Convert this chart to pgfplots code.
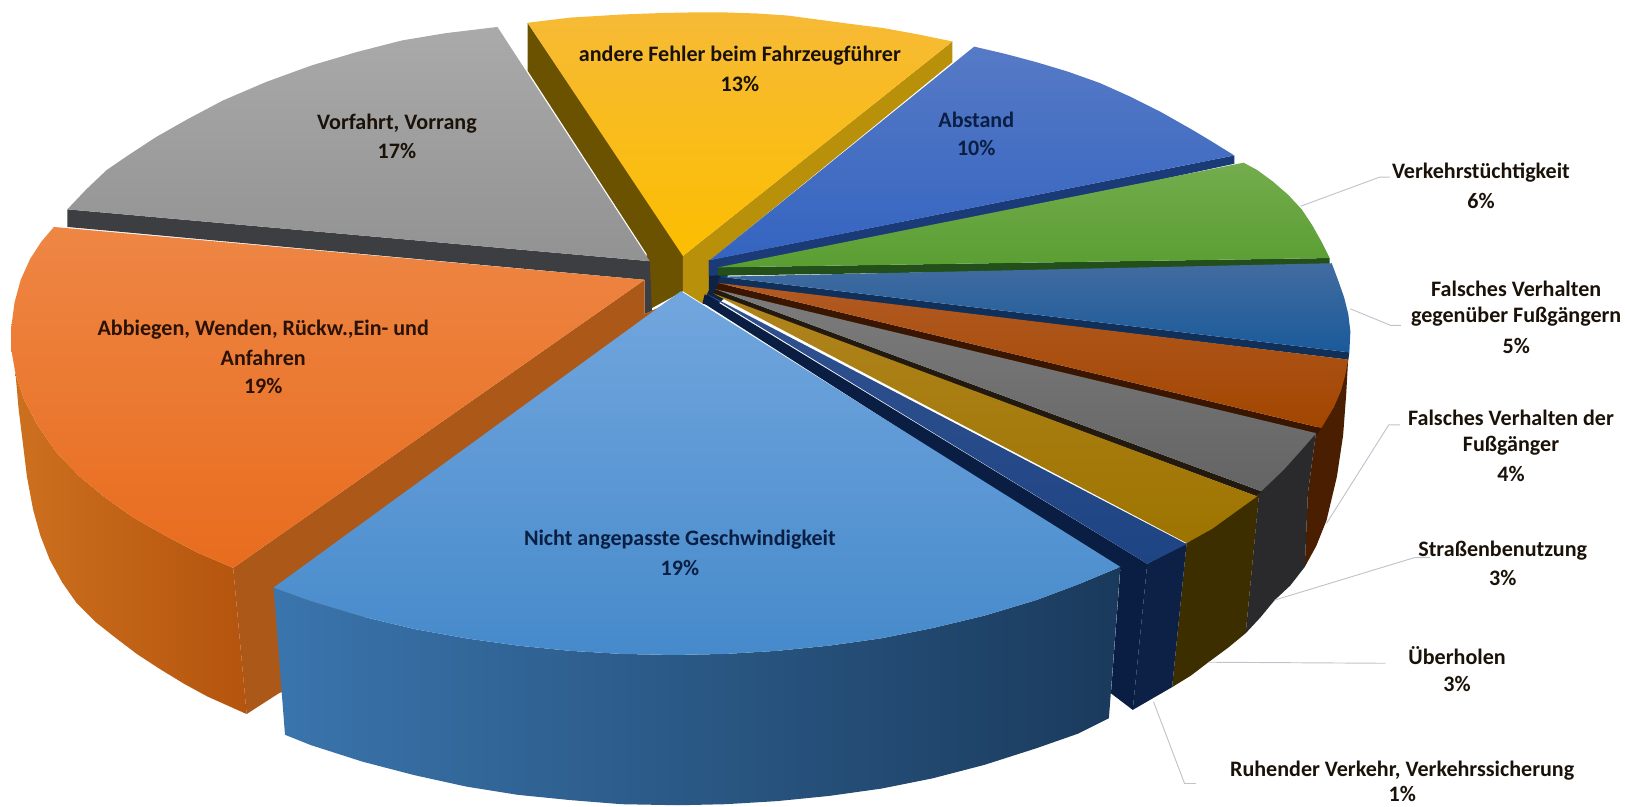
\documentclass[border=0pt]{standalone}
\usepackage{fontspec}
\setmainfont{Carlito}
\usepackage{pgfplots}
\pgfplotsset{compat=1.18}
\definecolor{txt}{HTML}{1A1208}
\definecolor{txb}{HTML}{0B1F44}
\definecolor{txr}{HTML}{2A1206}
\definecolor{lead}{HTML}{BFC4CC}
\newcommand{\lab}[4][txt]{\node[inner sep=0pt,anchor=center,text=#1,font=\fontsize{21.3}{23}\selectfont\bfseries] at (axis cs:#2,#3) {#4};}
\begin{document}
\begin{tikzpicture}
\begin{axis}[scale only axis,width=1568pt,height=778pt,xmin=0,xmax=1568,ymin=0,ymax=778,y dir=reverse,axis lines=none,clip=false]
% --- yellow walls
\addplot[draw=none,fill={rgb,255:red,107;green,82;blue,0}] coordinates {(509,22)(659,245)(659,281)(624,300)(624,245)(509,68)};
\addplot[draw=none,fill={rgb,255:red,184;green,144;blue,10}] coordinates {(659,247)(919,40)(919,60)(684,252)(684,292)(678,293)(659,281)};
\addplot[draw=none,top color={rgb,255:red,246;green,186;blue,54},middle color={rgb,255:red,255;green,192;blue,0},bottom color={rgb,255:red,252;green,190;blue,0}] coordinates {(509,22)(550,17)(600,14)(640,12.5)(667,12)(700,12)(730,13)(760,15)(790,19)(820,23)(852,27)(885,33)(919,40)(659,247)};
% --- grey
\addplot[draw=none,fill={rgb,255:red,60;green,62;blue,66}] coordinates {(65,202)(627,252)(629,300)(622,303)(622,270)(65,219)};
\addplot[draw=none,top color={rgb,255:red,170;green,170;blue,170},bottom color={rgb,255:red,146;green,146;blue,146}] coordinates {(480,26)(430,32)(388,39)(345,50)(301,63)(257,79)(215,97)(181,115)(151,132)(125,149)(103,164)(83,183)(65,202)(627,252)};
% --- orange
\addplot[draw=none,fill={rgb,255:red,172;green,88;blue,24}] coordinates {(225,548)(622,270)(622,303)(650,290)(290,660)(269,669)(238,689)};
\addplot[draw=none,left color={rgb,255:red,205;green,112;blue,30},middle color={rgb,255:red,190;green,92;blue,18},right color={rgb,255:red,180;green,84;blue,14}] coordinates {(15,361)(18,395)(22,427)(26,460)(32,492)(39,517)(48,540)(60,562)(74,582)(92,600)(111,615)(132,631)(155,646)(178,660)(200,672)(238,689)(225,548)(190,533)(158,516)(128,499)(100,479)(76,459)(54,436)(36,410)(23,385)};
\addplot[draw=none,top color={rgb,255:red,238;green,134;blue,68},bottom color={rgb,255:red,232;green,108;blue,30}] coordinates {(622,270)(52,219)(40,233)(29,250)(20,270)(14,292)(11,315)(11,338)(15,361)(23,385)(36,410)(54,436)(76,459)(100,479)(128,499)(158,516)(190,533)(225,548)};
% --- dark backing behind the fan of thin slices
\addplot[draw=none,fill={rgb,255:red,14;green,34;blue,70}] coordinates {(684,251)(702,258)(702,285)(690,296)(678,293)(684,280)};
% --- Abstand
\addplot[draw=none,fill={rgb,255:red,26;green,58;blue,120}] coordinates {(1191,150)(1191,158)(689,266)(684,266)(684,251)};
\addplot[draw=none,top color={rgb,255:red,86;green,122;blue,198},bottom color={rgb,255:red,52;green,100;blue,192}] coordinates {(685,251)(940,45)(970,52)(1000,60)(1030,69)(1061,80)(1090,93)(1120,108)(1150,125)(1170,137)(1191,150)};
% --- green
\addplot[draw=none,fill={rgb,255:red,35;green,80;blue,26}] coordinates {(1283,249)(1283,257)(693,266)(693,258)};
\addplot[draw=none,top color={rgb,255:red,116;green,172;blue,77},bottom color={rgb,255:red,90;green,158;blue,50}] coordinates {(693,258)(1200,157)(1213,164)(1228,175)(1243,188)(1256,202)(1266,217)(1275,233)(1283,249)};
% --- blue 5%
\addplot[draw=none,fill={rgb,255:red,16;green,48;blue,90}] coordinates {(1302,340)(1301,347)(692,274)(695,267)};
\addplot[draw=none,top color={rgb,255:red,66;green,108;blue,160},bottom color={rgb,255:red,26;green,90;blue,154}] coordinates {(695,267)(1285,254)(1291,270)(1297,287)(1301,303)(1303,320)(1302,340)};
% --- brown wall and top
\addplot[draw=none,fill={rgb,255:red,74;green,30;blue,0}] coordinates {(1301,344)(1299,380)(1296,420)(1290,460)(1280,502)(1270,527)(1259,547)(1262,476)(1270,416)};
\addplot[draw=none,fill={rgb,255:red,58;green,22;blue,0}] coordinates {(1275,413)(1271,419)(690,280)(693,273)};
\addplot[draw=none,top color={rgb,255:red,178;green,90;blue,35},bottom color={rgb,255:red,162;green,70;blue,0}] coordinates {(693,273)(1301,347)(1298,362)(1294,377)(1287,393)(1275,413)};
% --- grey 4%
\addplot[draw=none,fill={rgb,255:red,42;green,42;blue,44}] coordinates {(1270,416)(1262,476)(1259,547)(1245,565)(1230,579)(1216,596)(1202,611)(1215,475)};
\addplot[draw=none,fill={rgb,255:red,34;green,26;blue,14}] coordinates {(1217,474)(1213,479)(688,284)(690,279)};
\addplot[draw=none,top color={rgb,255:red,124;green,124;blue,124},bottom color={rgb,255:red,100;green,100;blue,100}] coordinates {(690,279)(1270,418)(1256,434)(1239,453)(1217,474)};
% --- gold 3%
\addplot[draw=none,fill={rgb,255:red,61;green,46;blue,0}] coordinates {(1215,476)(1202,611)(1185,625)(1166,639)(1149,652)(1131,663)(1145,524)};
\addplot[draw=none,top color={rgb,255:red,176;green,132;blue,30},bottom color={rgb,255:red,158;green,116;blue,0}] coordinates {(688,283)(1213,479)(1195,492)(1170,510)(1145,524)};
% --- navy 1%
\addplot[draw=none,fill={rgb,255:red,10;green,30;blue,68}] coordinates {(680,284)(1107,544)(1093,685)(1072,669)(1081,550)(678,292)};
\addplot[draw=none,fill={rgb,255:red,12;green,33;blue,69}] coordinates {(1145,524)(1131,663)(1093,685)(1107,544)};
\addplot[draw=none,top color={rgb,255:red,50;green,82;blue,144},bottom color={rgb,255:red,30;green,68;blue,132}] coordinates {(681,283)(1145,525)(1107,544)};
% --- leader lines
\addplot[lead,line width=0.9pt] coordinates {(1255,199)(1331,171)(1341,171)};
\addplot[lead,line width=0.9pt] coordinates {(1303,298)(1342,314)(1352,314)};
\addplot[lead,line width=0.9pt] coordinates {(1280,505)(1340,410)(1351,410)};
\addplot[lead,line width=0.9pt] coordinates {(1230,579)(1365,538)(1380,538)};
\addplot[lead,line width=0.9pt] coordinates {(1166,639)(1337,640)};
\addplot[lead,line width=0.9pt] coordinates {(1113,677)(1143,756)(1154,756)};
% --- big blue slice
\addplot[draw=none,left color={rgb,255:red,58;green,117;blue,173},middle color={rgb,255:red,46;green,92;blue,138},right color={rgb,255:red,26;green,58;blue,92}] coordinates {(264,567)(275,709)(300,719)(350,735)(400,748)(450,759)(500,767)(550,772)(600,776)(655,777)(700,776)(750,773)(800,768)(850,761)(900,751)(950,738)(1000,722)(1040,708)(1070,693)(1081,547)(1040,564)(1000,579)(950,594)(900,606)(850,616)(800,623)(750,628)(700,631)(650,632)(600,631)(550,628)(500,623)(450,616)(400,607)(350,595)(300,580)};
\addplot[draw=none,top color={rgb,255:red,114;green,166;blue,222},bottom color={rgb,255:red,70;green,138;blue,203}] coordinates {(657,281)(264,567)(300,580)(350,595)(400,607)(450,616)(500,623)(550,628)(600,631)(650,632)(700,631)(750,628)(800,623)(850,616)(900,606)(950,594)(1000,579)(1040,564)(1081,547)};
% --- labels
\lab{714}{54}{andere Fehler beim Fahrzeugführer}
\lab{714}{81}{13\%}
\lab[txb]{942}{116}{Abstand}
\lab[txb]{942}{143}{10\%}
\lab{383}{119}{Vorfahrt, Vorrang}
\lab{383}{146}{17\%}
\lab[txr]{254}{318}{Abbiegen, Wenden, Rückw.,Ein- und}
\lab[txr]{254}{345}{Anfahren}
\lab[txr]{254}{372}{19\%}
\lab[txb]{656}{521}{Nicht angepasste Geschwindigkeit}
\lab[txb]{656}{548}{19\%}
\lab{1429}{167}{Verkehrstüchtigkeit}
\lab{1429}{194}{6\%}
\lab{1463}{279}{Falsches Verhalten}
\lab{1463}{306}{gegenüber Fußgängern}
\lab{1463}{334}{5\%}
\lab{1458}{403}{Falsches Verhalten der}
\lab{1458}{430}{Fußgänger}
\lab{1458}{457}{4\%}
\lab{1450}{531}{Straßenbenutzung}
\lab{1450}{558}{3\%}
\lab{1406}{633}{Überholen}
\lab{1406}{660}{3\%}
\lab{1353}{744}{Ruhender Verkehr, Verkehrssicherung}
\lab{1353}{766}{1\%}
\end{axis}
\pgfresetboundingbox
\path[use as bounding box] (0,0) rectangle (1568pt,778pt);
\end{tikzpicture}
\end{document}
